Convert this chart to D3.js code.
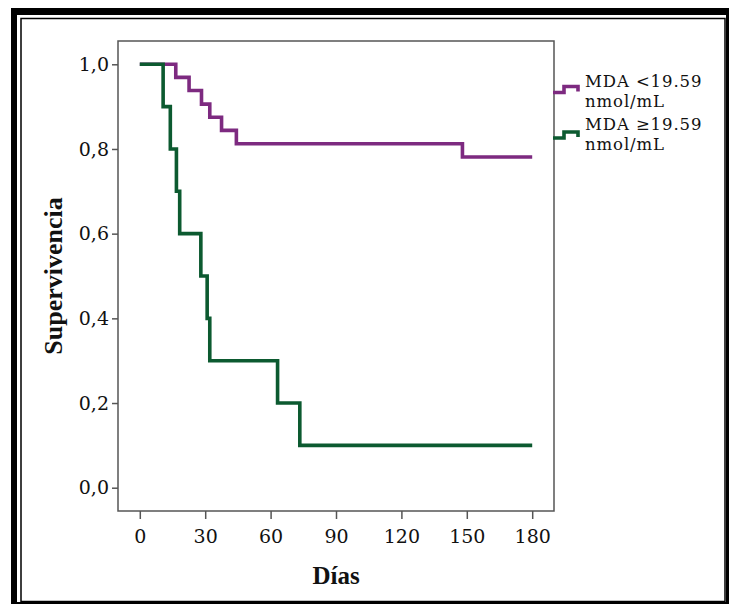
<!DOCTYPE html>
<html><head><meta charset="utf-8">
<script src="https://cdn.jsdelivr.net/npm/d3@7"></script>
<style>
html,body{margin:0;padding:0;background:#fff;}
svg{display:block;}
</style></head>
<body>
<svg id="chart" width="729" height="604"></svg>
<script>
// ---- data ----
const groupNames = ["MDA <19.59", "MDA \u226519.59"];
const groupUnits = ["nmol/mL", "nmol/mL"];
const lowTimes   = [0, 16.5, 22.6, 28.3, 32.1, 37.5, 44.3, 148, 180];
const lowSurv    = [1, 0.969, 0.938, 0.906, 0.875, 0.844, 0.8125, 0.781, 0.781];
const highTimes  = [0, 10.7, 14, 16.8, 18.3, 28, 30.9, 32.1, 63.2, 73.4, 180];
const highSurv   = [1, 0.9, 0.8, 0.7, 0.6, 0.5, 0.4, 0.3, 0.2, 0.1, 0.1];
const xTicks = [0, 30, 60, 90, 120, 150, 180];
const yTicks = [0, 0.2, 0.4, 0.6, 0.8, 1.0];
const colors = ["#7d2a80", "#0c5a30"];

const svg = d3.select("#chart");

// ---- outer frame ----
svg.append("rect").attr("x",11).attr("y",8).attr("width",718).attr("height",7).attr("fill","#000");
svg.append("rect").attr("x",11).attr("y",8).attr("width",6).attr("height",596).attr("fill","#000");
svg.append("rect").attr("x",726).attr("y",8).attr("width",3).attr("height",596).attr("fill","#000");
svg.append("rect").attr("x",11).attr("y",602).attr("width",718).attr("height",2).attr("fill","#000");
svg.append("rect").attr("x",21).attr("y",18.5).attr("width",704).attr("height",583)
  .attr("fill","none").attr("stroke","#000").attr("stroke-width",1.5);

// ---- scales ----
const x = d3.scaleLinear().domain([-10, 190]).range([118, 554]);
const y = d3.scaleLinear().domain([-0.055, 1.055]).range([511, 41]);

// plot frame
svg.append("rect").attr("x",x(-10)).attr("y",y(1.055))
  .attr("width",x(190)-x(-10)).attr("height",y(-0.055)-y(1.055))
  .attr("fill","none").attr("stroke","#555").attr("stroke-width",1.5);

const tickFont = "'DejaVu Serif', serif";

const xAxis = svg.append("g").attr("transform",`translate(0,${y(-0.055)})`)
  .call(d3.axisBottom(x).tickValues(xTicks).tickSize(8).tickPadding(11).tickFormat(d3.format("d")));
const yAxis = svg.append("g").attr("transform",`translate(${x(-10)},0)`)
  .call(d3.axisLeft(y).tickValues(yTicks).tickSize(6).tickPadding(3)
    .tickFormat(d => d.toFixed(1).replace(".", ",")));
[xAxis, yAxis].forEach(g => {
  g.select(".domain").remove();
  g.selectAll(".tick line").attr("stroke","#555").attr("stroke-width",1.5);
  g.selectAll(".tick text").attr("fill","#111").style("font-family",tickFont).style("font-size","19px");
});

// ---- curves (purple first, green on top) ----
const line = d3.line().x(d => x(d[0])).y(d => y(d[1])).curve(d3.curveStepAfter);
const series = [d3.zip(lowTimes, lowSurv), d3.zip(highTimes, highSurv)];
[0, 1].forEach(i => {
  svg.append("path").datum(series[i]).attr("d", line)
    .attr("fill","none").attr("stroke",colors[i]).attr("stroke-width",3.6)
    .attr("stroke-linejoin","miter").attr("stroke-linecap","butt");
});

// ---- legend ----
const legY = [92.5, 138];
groupNames.forEach((name, i) => {
  const by = legY[i];
  const sym = [[553, by], [564, by], [564, by-6], [578, by-6], [578, by-1]];
  svg.append("path").attr("d", d3.line()(sym)).attr("fill","none")
    .attr("stroke",colors[i]).attr("stroke-width",3.6);
  const t = svg.append("text").attr("x",585).attr("y", i === 0 ? 87 : 130)
    .style("font-family",tickFont).style("font-size","16.5px")
    .style("letter-spacing","0.9px").attr("fill","#111");
  t.append("tspan").attr("x",585).text(name);
  t.append("tspan").attr("x",585).attr("dy","20").text(groupUnits[i]);
});

// ---- axis titles ----
svg.append("text").attr("x",336).attr("y",584).attr("text-anchor","middle")
  .style("font-family","'Liberation Serif', serif").style("font-weight","bold")
  .style("font-size","25px").attr("fill","#111").text("D\u00edas");
svg.append("text").attr("transform","translate(62,276) rotate(-90)").attr("text-anchor","middle")
  .style("font-family","'Liberation Serif', serif").style("font-weight","bold")
  .style("font-size","26px").attr("fill","#111").text("Supervivencia");
</script>
</body></html>
